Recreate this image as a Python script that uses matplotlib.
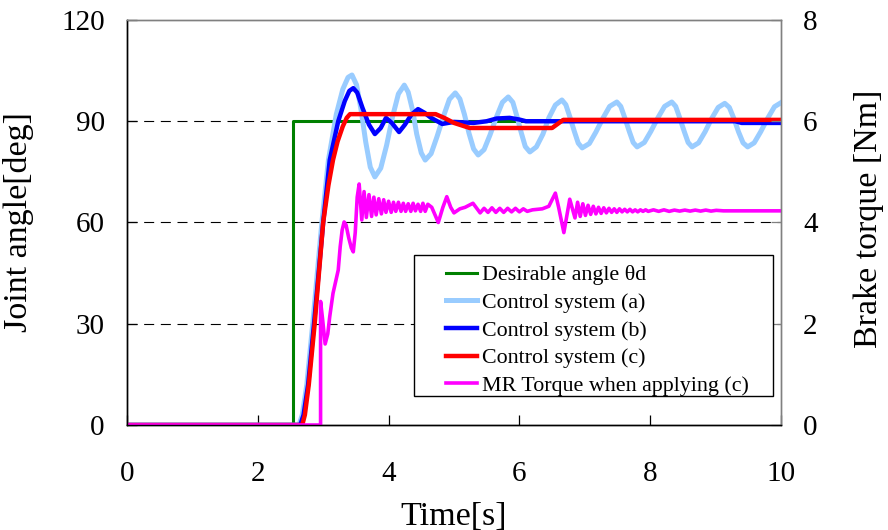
import matplotlib
matplotlib.use("Agg")
import matplotlib.pyplot as plt
from matplotlib.patches import Rectangle

plt.rcParams['font.family'] = ['Liberation Serif', 'DejaVu Serif']

# ---------------- data ----------------
t_desired = [0, 2.54, 2.54, 10]
y_desired = [0, 0, 90, 90]

t_a = [0, 2.63, 2.68, 2.75, 2.84, 2.98, 3.08, 3.2, 3.3, 3.38, 3.44,
       3.51, 3.58, 3.65, 3.72, 3.79,
       3.88, 3.97, 4.06, 4.15, 4.24,
       4.30, 4.37, 4.43, 4.50, 4.56,
       4.65, 4.74, 4.84, 4.93, 5.02,
       5.09, 5.16, 5.23, 5.30, 5.37,
       5.46, 5.55, 5.65, 5.74, 5.83,
       5.90, 5.96, 6.03, 6.09, 6.16,
       6.26, 6.36, 6.45, 6.55, 6.65,
       6.71, 6.77, 6.84, 6.90, 6.96,
       7.07, 7.17, 7.28, 7.38, 7.49,
       7.55, 7.61, 7.68, 7.74, 7.80,
       7.91, 8.01, 8.12, 8.22, 8.33,
       8.39, 8.45, 8.52, 8.58, 8.64,
       8.74, 8.84, 8.94, 9.04, 9.14,
       9.21, 9.28, 9.35, 9.42, 9.49,
       9.59, 9.69, 9.80, 9.90, 10.0]
y_a = [0, 0, 3, 12, 30, 60, 78.5, 92, 99.5, 103, 103.7,
       100.8, 93.3, 83.9, 76.4, 73.5,
       76.1, 82.9, 91.3, 98.1, 100.7,
       98.6, 93.0, 86.2, 80.6, 78.5,
       80.4, 85.4, 91.5, 96.5, 98.4,
       96.6, 92.0, 86.4, 81.8, 80.0,
       81.6, 85.9, 91.3, 95.6, 97.2,
       95.6, 91.6, 86.5, 82.5, 80.9,
       82.4, 86.2, 91.0, 94.8, 96.3,
       94.9, 91.4, 87.0, 83.5, 82.1,
       83.4, 86.8, 91.0, 94.4, 95.7,
       94.4, 91.1, 87.0, 83.7, 82.4,
       83.7, 87.0, 91.1, 94.4, 95.7,
       94.4, 91.1, 87.0, 83.7, 82.4,
       83.6, 86.9, 90.8, 94.1, 95.3,
       94.1, 90.8, 86.9, 83.6, 82.4,
       83.6, 86.9, 91.0, 94.3, 95.5]

t_b = [0, 2.65, 2.70, 2.77, 2.86, 3.0, 3.1, 3.23, 3.33, 3.40, 3.46, 3.52,
       3.60, 3.70, 3.79, 3.88, 3.96, 4.05, 4.16, 4.25, 4.35, 4.45, 4.55,
       4.65, 4.82, 5.0, 5.3, 5.5, 5.65, 5.85, 6.0, 6.1, 7.0, 9.3, 9.4, 10]
y_b = [0, 0, 3, 12, 30, 60, 78.5, 90, 96, 99, 99.8, 98.5,
       94, 89, 86.2, 88, 91, 89.5, 86.8, 89, 92, 93.6, 92.5,
       91, 89.2, 89.8, 89.5, 90, 90.8, 91, 90.5, 90, 90, 90, 89.5, 89.5]

t_c = [0, 2.68, 2.72, 2.78, 2.87, 3.0, 3.08, 3.15, 3.22, 3.30, 3.36, 3.41,
       4.72, 4.85, 5.0, 5.24, 6.5, 6.67, 10]
y_c = [0, 0, 3, 12, 30, 60, 71, 78.5, 84, 88.5, 91, 92.1,
       92.1, 91, 89.5, 88, 88, 90.4, 90.4]

t_mr = [0, 2.96, 2.96, 2.99, 3.03, 3.07, 3.10, 3.15, 3.23, 3.26, 3.29, 3.32,
        3.35, 3.39, 3.43, 3.46, 3.49, 3.52, 3.55,
        3.59, 3.625, 3.66, 3.70, 3.74, 3.775, 3.81, 3.85, 3.89, 3.925,
        3.96, 4.0, 4.04, 4.075, 4.11, 4.15, 4.19, 4.225, 4.26, 4.30,
        4.34, 4.375, 4.41, 4.45, 4.49, 4.525, 4.56, 4.60, 4.66,
        4.76, 4.83, 4.89, 4.95, 5.0, 5.09, 5.17, 5.29, 5.40,
        5.46, 5.52, 5.58, 5.64, 5.70, 5.76, 5.82, 5.88, 5.94, 6.0, 6.06,
        6.12, 6.2, 6.35, 6.45, 6.55, 6.60, 6.68, 6.77, 6.85,
        6.89, 6.93, 6.97, 7.01, 7.05, 7.09, 7.13, 7.17, 7.21, 7.25,
        7.29, 7.33, 7.37, 7.41, 7.45, 7.49, 7.53, 7.57, 7.61, 7.65,
        7.69, 7.73, 7.77, 7.81, 7.85, 7.89, 7.93, 7.97, 8.05, 8.13,
        8.21, 8.29, 8.37, 8.45, 8.53, 8.61, 8.69, 8.77, 8.85, 8.93,
        9.01, 9.12, 10]
y_mr = [0, 0, 2.44, 2.1, 1.6, 1.8, 2.14, 2.6, 3.06, 3.52, 3.85, 4.01,
        3.95, 3.7, 3.5, 3.42, 3.8, 4.5, 4.76,
        4.05, 4.61, 4.10, 4.55, 4.12, 4.50, 4.15, 4.47, 4.17, 4.45,
        4.20, 4.42, 4.20, 4.40, 4.22, 4.40, 4.22, 4.38, 4.22, 4.37,
        4.22, 4.38, 4.23, 4.36, 4.22, 4.38, 4.22, 4.36, 4.30,
        4.00, 4.30, 4.51, 4.30, 4.19, 4.27, 4.30, 4.38, 4.19,
        4.28, 4.20, 4.29, 4.20, 4.28, 4.20, 4.28, 4.21, 4.28, 4.21, 4.27,
        4.22, 4.25, 4.27, 4.32, 4.58, 4.30, 3.80, 4.46, 4.09,
        4.40, 4.12, 4.37, 4.14, 4.34, 4.16, 4.32, 4.17, 4.30, 4.18,
        4.29, 4.19, 4.28, 4.20, 4.27, 4.20, 4.27, 4.21, 4.26, 4.21,
        4.26, 4.21, 4.25, 4.21, 4.25, 4.22, 4.25, 4.22, 4.25, 4.22,
        4.25, 4.22, 4.245, 4.225, 4.245, 4.225, 4.245, 4.225, 4.245, 4.225,
        4.24, 4.23, 4.23]

x_ticks = [0, 2, 4, 6, 8, 10]
y_ticks = [0, 30, 60, 90, 120]
y2_ticks = [0, 2, 4, 6, 8]
grid_levels = [30, 60, 90]

labels = ['Desirable angle θd', 'Control system (a)', 'Control system (b)',
          'Control system (c)', 'MR Torque when applying (c)']

# ---------------- figure ----------------
fig = plt.figure(figsize=(8.88, 5.30), dpi=100)
ax = fig.add_axes([0.1430, 0.1981, 0.7365, 0.7642])
ax2 = ax.twinx()

for g in grid_levels:
    ax.axhline(g, color='black', lw=0.8, ls=(0, (9, 6)), zorder=1)

l1, = ax.plot(t_desired, y_desired, color='#008000', lw=2.2, zorder=2)
l2, = ax.plot(t_a, y_a, color='#99ccff', lw=3.6, zorder=3)
l3, = ax.plot(t_b, y_b, color='#0000ff', lw=3.2, zorder=4)
l4, = ax.plot(t_c, y_c, color='#ff0000', lw=3.2, zorder=5)
l5, = ax2.plot(t_mr, y_mr, color='#ff00ff', lw=2.6, zorder=2)

ax.set_xlim(0, 10)
ax.set_ylim(0, 120)
ax2.set_ylim(0, 8)
ax.set_xticks(x_ticks)
ax.set_yticks(y_ticks)
ax2.set_yticks(y2_ticks)

ax.tick_params(axis='both', direction='in', length=7, width=0.9,
               labelsize=21, color='black')
ax.tick_params(axis='y', pad=16)
ax.tick_params(axis='x', pad=26)
ax2.tick_params(axis='y', direction='in', length=7, width=0.9,
                labelsize=21, color='#808080', pad=16)

for a in (ax, ax2):
    a.spines['left'].set_color('black')
    a.spines['bottom'].set_color('black')
    a.spines['top'].set_color('#808080')
    a.spines['right'].set_color('#808080')
    for s in a.spines.values():
        s.set_linewidth(1.0)

ax.set_xlabel('Time[s]', fontsize=24.5)
ax.set_ylabel('Joint angle[deg]', fontsize=24.5)
ax2.set_ylabel('Brake torque [Nm]', fontsize=24.5)
ax.xaxis.set_label_coords(0.5, -0.188)
ax.yaxis.set_label_coords(-0.142, 0.5)
ax2.yaxis.set_label_coords(1.1116, 0.51)

rect = Rectangle((0.4388, 0.0716), 0.549, 0.348, transform=ax2.transAxes,
                 facecolor='white', edgecolor='black', lw=1.0, zorder=9)
ax2.add_patch(rect)
leg = ax2.legend([l1, l2, l3, l4, l5], labels, loc='upper left',
                 bbox_to_anchor=(0.488, 0.395), frameon=False, fontsize=15.8,
                 handlelength=1.42, handletextpad=0.23, labelspacing=0.33,
                 borderpad=0, borderaxespad=0)
leg.set_zorder(10)

fig.savefig('out.png', dpi=100)
